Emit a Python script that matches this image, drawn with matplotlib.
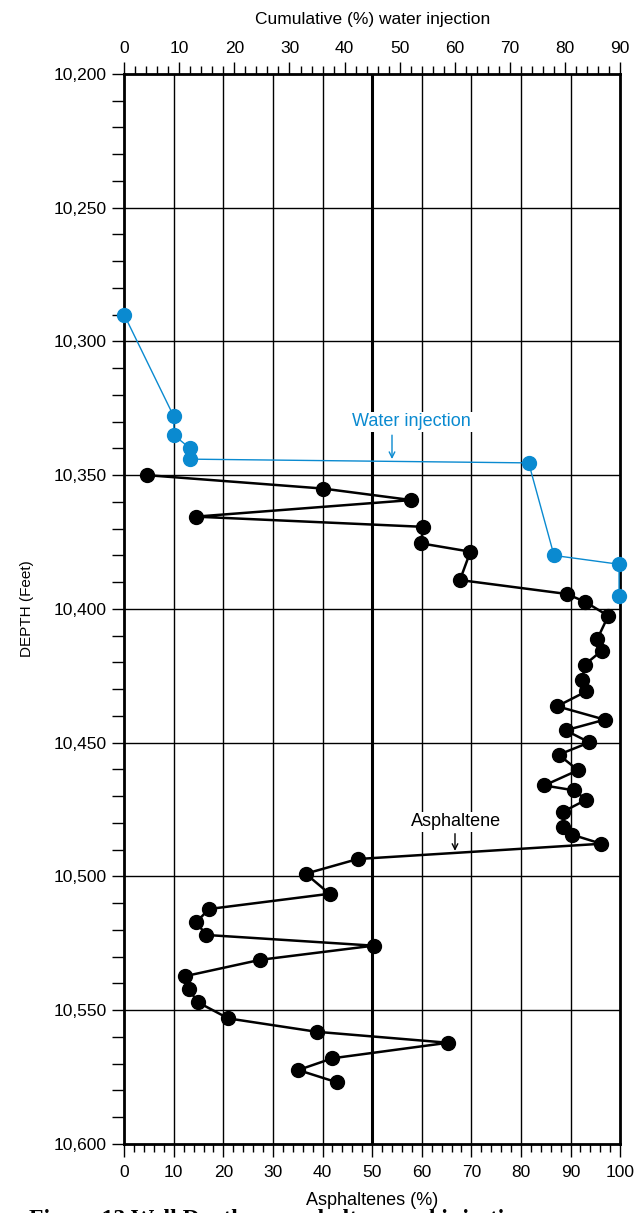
import matplotlib
matplotlib.use("Agg")
import matplotlib.pyplot as plt
import matplotlib.ticker as mticker

plt.rcParams['font.family'] = ['Liberation Sans', 'DejaVu Sans']

# Asphaltenes (%) vs depth (ft)
asph_pct = [4.7, 40.1, 57.9, 14.4, 60.2, 59.9, 69.8, 67.7, 89.2, 92.9,
            97.6, 95.4, 96.3, 92.9, 92.3, 93.2, 87.3, 96.9, 89.0, 93.8,
            87.6, 91.5, 84.7, 90.6, 93.2, 88.5, 88.5, 90.3, 96.2, 47.1,
            36.6, 41.4, 17.1, 14.5, 16.6, 50.3, 27.4, 12.3, 13.0, 14.8,
            21.0, 38.8, 65.3, 42.0, 35.1, 42.9]
asph_depth = [10350, 10355, 10359.3, 10365.5, 10369.3, 10375.5, 10378.6, 10389.2, 10394.4, 10397.3,
              10402.6, 10411.2, 10415.6, 10420.8, 10426.7, 10430.8, 10436.4, 10441.4, 10445.4, 10449.9,
              10454.5, 10460.3, 10466, 10467.8, 10471.3, 10475.8, 10481.7, 10484.4, 10487.8, 10493.5,
              10499, 10506.5, 10512.2, 10517.2, 10521.9, 10525.9, 10531.2, 10537.3, 10542, 10547,
              10553.1, 10558.1, 10562.2, 10568, 10572.4, 10577]

# cumulative water injection (%) vs depth (ft)
water_pct = [0, 9, 9, 12, 12, 73.4, 78, 89.8, 89.8]
water_depth = [10290, 10328, 10335, 10340, 10344, 10345.4, 10380, 10383.3, 10395]

blue = '#0a8ad0'

fig = plt.figure(figsize=(6.4, 12.13), dpi=100)
ax = fig.add_axes([0.194, 0.057, 0.775, 0.882])

ax.set_xlim(0, 100)
ax.set_ylim(10600, 10200)
ax.xaxis.set_major_locator(mticker.MultipleLocator(10))
ax.xaxis.set_minor_locator(mticker.MultipleLocator(2))
ax.yaxis.set_major_locator(mticker.MultipleLocator(50))
ax.yaxis.set_minor_locator(mticker.MultipleLocator(10))
ax.yaxis.set_major_formatter(mticker.FuncFormatter(lambda v, p: f"{int(v):,}"))
ax.tick_params(axis='x', which='major', length=9, width=1, labelsize=12.5, pad=6)
ax.tick_params(axis='x', which='minor', length=6, width=1)
ax.tick_params(axis='y', which='both', length=9, width=1, labelsize=12.5)

for v in range(10, 100, 10):
    ax.axvline(v, color='black', lw=2.2 if v == 50 else 1.0, zorder=1)
for d in range(10250, 10600, 50):
    ax.axhline(d, color='black', lw=1.0, zorder=1)
for s in ax.spines.values():
    s.set_linewidth(2)

ax.plot(asph_pct, asph_depth, '-o', color='black', lw=1.8, ms=10, zorder=4, clip_on=False)

ax.set_xlabel('Asphaltenes (%)', fontsize=13, labelpad=9)
ax.set_ylabel('DEPTH (Feet)', fontsize=11, labelpad=14)

ax2 = ax.twiny()
ax2.set_xlim(0, 90)
ax2.xaxis.set_major_locator(mticker.MultipleLocator(10))
ax2.xaxis.set_minor_locator(mticker.MultipleLocator(2))
ax2.tick_params(axis='x', which='major', length=9, width=1, labelsize=12.5, pad=4)
ax2.tick_params(axis='x', which='minor', length=6, width=1)
ax2.plot(water_pct, water_depth, '-o', color=blue, lw=1.0, ms=10, zorder=4, clip_on=False)
ax2.set_xlabel('Cumulative (%) water injection', fontsize=12.5, labelpad=12)
ax2.set_ylim(10600, 10200)

ax.text(58, 10330, 'Water injection', color=blue, fontsize=13, ha='center', va='center',
        bbox=dict(facecolor='white', edgecolor='none', pad=1), zorder=5)
ax.annotate('', xy=(54, 10345), xytext=(54, 10334),
            arrowprops=dict(arrowstyle='->', color=blue, lw=1), zorder=5)
ax.text(67, 10479.5, 'Asphaltene', color='black', fontsize=13, ha='center', va='center',
        bbox=dict(facecolor='white', edgecolor='none', pad=1), zorder=5)
ax.annotate('', xy=(66.7, 10491.5), xytext=(66.7, 10483),
            arrowprops=dict(arrowstyle='->', color='black', lw=1), zorder=5)

fig.text(0.045, 0.0035, 'Figure 13 Well Depth vs. asphaltene and injection',
         fontsize=17, fontweight='bold', family='Liberation Serif', va='top', zorder=0)

fig.savefig('out.png', dpi=100)
